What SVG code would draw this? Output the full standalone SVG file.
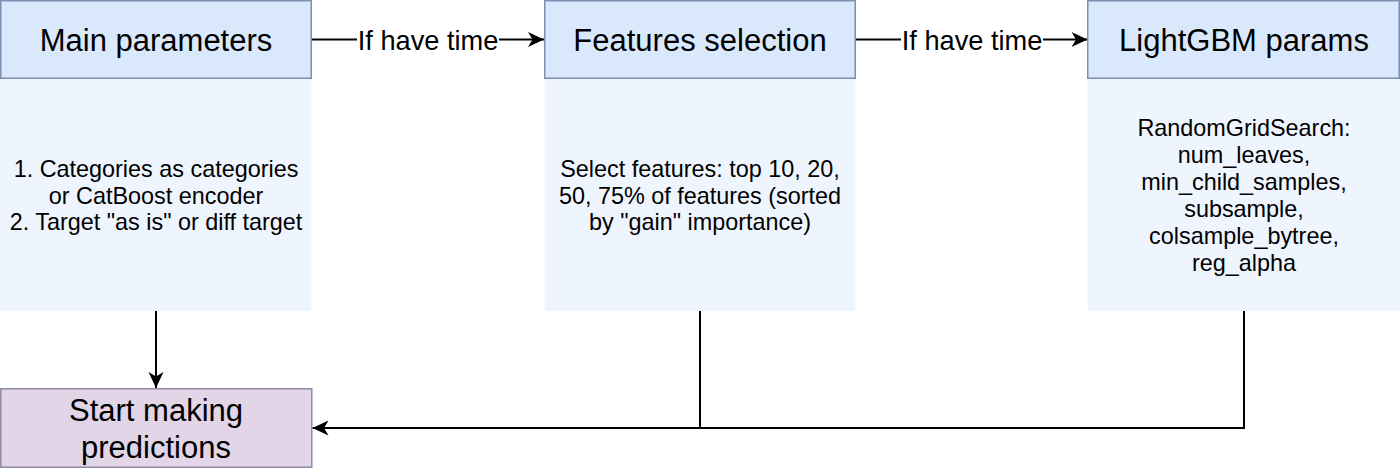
<svg xmlns="http://www.w3.org/2000/svg" width="1400" height="468" viewBox="0 0 1400 468">
  <defs>
    <style>
      .hdr { fill: #dae8fc; stroke: #7d8fb3; stroke-width: 1.5; }
      .body { fill: #eff5fe; stroke: none; }
      .end { fill: #e1d5e7; stroke: #8e8ca6; stroke-width: 1.5; }
      .t { font-family: "Liberation Sans", Arial, Helvetica, sans-serif; fill: #000; text-anchor: middle; }
      .title { font-size: 31px; }
      .txt { font-size: 23.4px; }
      .lbl { font-size: 27.2px; }
      .edge { fill: none; stroke: #000; stroke-width: 2; }
      .lblbg { fill: #fff; }
    </style>
    <marker id="arr" viewBox="0 0 16 16" refX="16" refY="8" markerWidth="16" markerHeight="16" markerUnits="userSpaceOnUse" orient="auto">
      <path d="M0,0.5 L16,8 L0,15.5 L4.5,8 Z" fill="#000"/>
    </marker>
  </defs>
  <rect width="1400" height="468" fill="#fff"/>

  <g id="connectors">
    <path class="edge" d="M311.5,39.5 L544,39.5" marker-end="url(#arr)"/>
    <path class="edge" d="M855.5,39.5 L1087.5,39.5" marker-end="url(#arr)"/>
    <path class="edge" d="M156,311 L156,388" marker-end="url(#arr)"/>
    <path class="edge" d="M700,311 L700,428"/>
    <path class="edge" d="M1244,311 L1244,428 L312.5,428" marker-end="url(#arr)"/>
    <g id="label1">
      <rect class="lblbg" x="357" y="27" width="142" height="27"/>
      <text class="t lbl" x="428" y="50">If have time</text>
    </g>
    <g id="label2">
      <rect class="lblbg" x="901" y="27" width="142" height="27"/>
      <text class="t lbl" x="972" y="50">If have time</text>
    </g>
  </g>

  <g id="main-parameters">
    <rect class="body" x="0" y="78.5" width="311.5" height="232.5"/>
    <rect class="hdr" x="0.75" y="0.75" width="310.5" height="77.5"/>
    <text class="t title" x="156" y="51">Main parameters</text>
    <text class="t txt" x="156" y="177">1. Categories as categories</text>
    <text class="t txt" x="156" y="203.5">or CatBoost encoder</text>
    <text class="t txt" x="156" y="230">2. Target "as is" or diff target</text>
  </g>

  <g id="features-selection">
    <rect class="body" x="544.5" y="78.5" width="311" height="232.5"/>
    <rect class="hdr" x="544.75" y="0.75" width="310.5" height="77.5"/>
    <text class="t title" x="700" y="51">Features selection</text>
    <text class="t txt" x="700" y="177">Select features: top 10, 20,</text>
    <text class="t txt" x="700" y="203.5">50, 75% of features (sorted</text>
    <text class="t txt" x="700" y="230">by "gain" importance)</text>
  </g>

  <g id="lightgbm-params">
    <rect class="body" x="1087.5" y="78.5" width="312.5" height="232.5"/>
    <rect class="hdr" x="1087.75" y="0.75" width="311.5" height="77.5"/>
    <text class="t title" x="1244" y="51">LightGBM params</text>
    <text class="t txt" x="1244" y="136">RandomGridSearch:</text>
    <text class="t txt" x="1244" y="163">num_leaves,</text>
    <text class="t txt" x="1244" y="190">min_child_samples,</text>
    <text class="t txt" x="1244" y="217">subsample,</text>
    <text class="t txt" x="1244" y="244">colsample_bytree,</text>
    <text class="t txt" x="1244" y="271">reg_alpha</text>
  </g>

  <g id="start-making-predictions">
    <rect class="end" x="0.75" y="388.75" width="311" height="78.5"/>
    <text class="t title" x="156" y="421">Start making</text>
    <text class="t title" x="156" y="457.5">predictions</text>
  </g>
</svg>
